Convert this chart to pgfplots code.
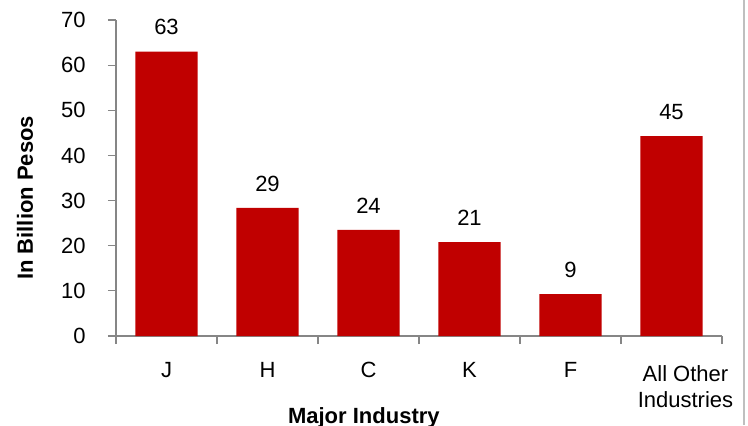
\documentclass[border=0pt]{standalone}
\usepackage{fontspec}
\setmainfont{Liberation Sans}
\usepackage{pgfplots}
\pgfplotsset{compat=1.18}
\usepackage{pgfplotstable}

\definecolor{barred}{HTML}{C00000}
\definecolor{axisgray}{HTML}{868686}

% x = category index, y = bar height, lab = printed value
\pgfplotstableread{
x  y     lab
0  63.0  63
1  28.4  29
2  23.5  24
3  20.8  21
4  9.3   9
5  44.3  45
}\sharesdata

\begin{document}
\begin{tikzpicture}
\fontsize{11}{13}\selectfont
\path[use as bounding box] (-58pt,-44.5pt) rectangle (316pt,168pt);
\begin{axis}[
    at={(0,0)}, anchor=south west,
    scale only axis,
    width=303pt, height=158pt,
    xmin=-0.5, xmax=5.5,
    ymin=0, ymax=70,
    axis x line*=bottom,
    axis y line*=left,
    axis line style={axisgray, line width=0.6pt},
    tick style={axisgray, line width=0.6pt},
    tick align=outside,
    major tick length=4pt,
    minor tick length=4pt,
    ytick={0,10,...,70},
    xtick={0,1,2,3,4},
    xticklabels={J,H,C,K,F},
    major x tick style={draw=none},
    minor xtick={-0.5,0.5,1.5,2.5,3.5,4.5,5.5},
    extra x ticks={5},
    extra x tick labels={All Other\\Industries},
    extra x tick style={xticklabel style={xshift=7pt, yshift=-1.5pt}},
    xticklabel style={anchor=north, inner sep=0pt, align=center, yshift=-9pt},
    yticklabel style={anchor=east, inner sep=0pt, xshift=-11pt},
    /pgf/number format/assume math mode=true,
    ticklabel style={font=\fontsize{11}{13}\selectfont},
    xlabel={\textbf{Major Industry}},
    xlabel style={at={(rel axis cs:0.409,-0.2753)}, anchor=base, inner sep=0pt},
    ylabel={\textbf{In Billion Pesos}},
    ylabel style={at={(rel axis cs:-0.1502,0.437)}, anchor=center, inner sep=0pt},
    label style={font=\fontsize{11}{13}\selectfont},
    clip=false,
]
\addplot[ybar, bar width=31pt, fill=barred, draw=none,
    point meta=explicit symbolic,
    nodes near coords,
    every node near coord/.append style={anchor=south, inner sep=0pt, yshift=8pt, text=black, font=\fontsize{11}{13}\selectfont}]
    table[x=x, y=y, meta=lab] {\sharesdata};
\end{axis}
\draw[black!25, line width=0.6pt] (314pt,-44.5pt) -- (314pt,168pt);
\end{tikzpicture}
\end{document}
